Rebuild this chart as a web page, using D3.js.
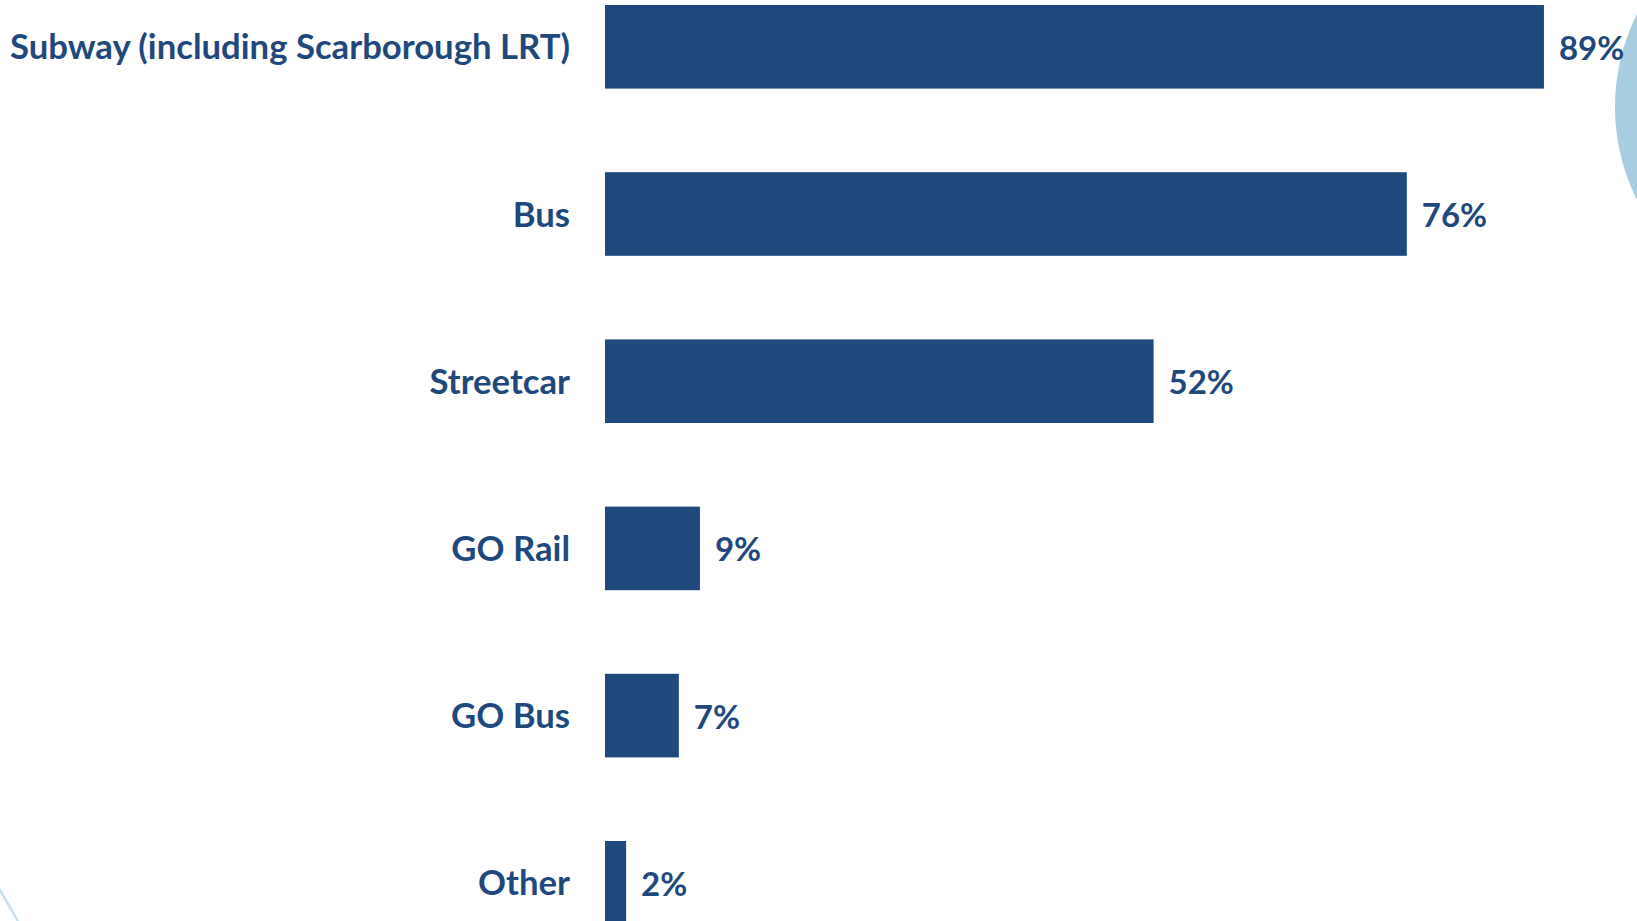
<!DOCTYPE html>
<html>
<head>
<meta charset="utf-8">
<script src="https://cdn.jsdelivr.net/npm/d3@7"></script>
<style>
  html, body { margin: 0; padding: 0; background: #ffffff; overflow: hidden; }
  svg { display: block; }
</style>
</head>
<body>
<svg id="chart" width="1637" height="921"></svg>
<script>
// Transit modes used, share of respondents (%)
const categories = ["Subway (including Scarborough LRT)", "Bus", "Streetcar", "GO Rail", "GO Bus", "Other"];
const values = [89, 76, 52, 9, 7, 2];
const valueLabels = ["89%", "76%", "52%", "9%", "7%", "2%"];

const W = 1637, H = 921;
const ink = "#1f497d";
const font = "Lato, 'Open Sans', sans-serif";

const svg = d3.select("#chart");

// decorative shapes: filled disc at the top right, thin stroke at the bottom left
svg.append("circle")
  .attr("cx", 1823).attr("cy", 107).attr("r", 208)
  .attr("fill", "#a9cde0");
svg.append("line")
  .attr("x1", -6).attr("y1", 880)
  .attr("x2", 22).attr("y2", 928)
  .attr("stroke", "#c9e2ee")
  .attr("stroke-width", 2.5);

const x = d3.scaleLinear().domain([0, 100]).range([605, 1660]);
const y = d3.scaleBand()
  .domain(categories)
  .range([-36.8, 966.4])
  .paddingInner(0.5)
  .paddingOuter(0.25);

const rows = svg.append("g").selectAll("g")
  .data(categories.map((c, i) => ({ c, v: values[i], lab: valueLabels[i] })))
  .join("g");

rows.append("rect")
  .attr("x", x(0))
  .attr("y", d => y(d.c))
  .attr("width", d => x(d.v) - x(0))
  .attr("height", y.bandwidth())
  .attr("fill", ink);

rows.append("text")
  .attr("x", x(0) - 35)
  .attr("y", d => y(d.c) + y.bandwidth() / 2 + 12.5)
  .attr("text-anchor", "end")
  .attr("font-family", font)
  .attr("font-weight", 700)
  .attr("font-size", 34.7)
  .attr("fill", ink)
  .text(d => d.c);

rows.append("text")
  .attr("x", d => x(d.v) + 15)
  .attr("y", d => y(d.c) + y.bandwidth() / 2 + 13)
  .attr("font-family", font)
  .attr("font-weight", 700)
  .attr("font-size", 33)
  .attr("fill", ink)
  .text(d => d.lab);
</script>
</body>
</html>
